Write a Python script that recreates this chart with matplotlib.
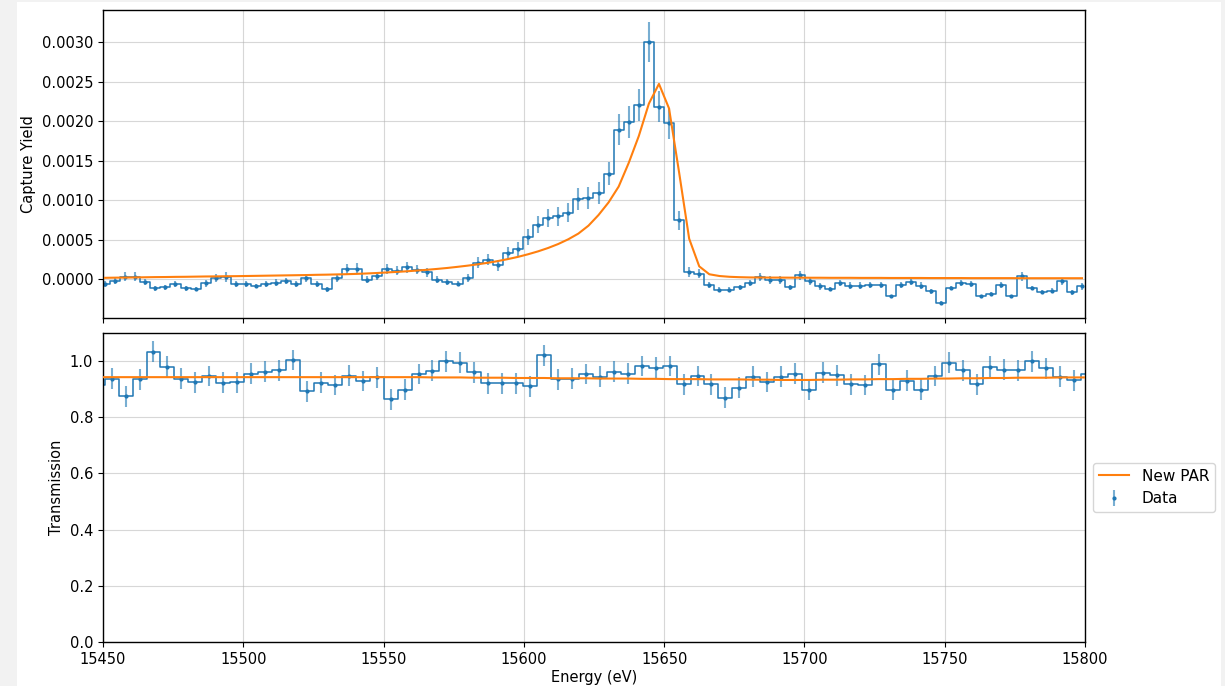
import matplotlib
matplotlib.use("Agg")
import matplotlib.pyplot as plt
from matplotlib.patches import Rectangle
from matplotlib.ticker import MultipleLocator
import numpy as np

plt.rcParams["font.size"] = 10.5
plt.rcParams["axes.linewidth"] = 1.0

# capture yield: uniform energy grid, measured points, errors and the PAR fit
cy_start = 15450.7
cy_step = 3.59
cy_data = [
    -0.000067, -0.000025, 0.00003, 0.00003, -0.000034, -0.000118, -0.000105, -0.000067, -0.000118, -0.000127,
    -0.000055, 0.000017, 0.000025, -0.000063, -0.000063, -0.000089, -0.000067, -0.000046, -0.000025, -0.000067,
    0.000017, -0.000067, -0.00013, 0.000017, 0.000122, 0.00013, -0.000008, 0.000034, 0.000127, 0.000105,
    0.000148, 0.000118, 0.000084, -0.000008, -0.000042, -0.000059, 0.000013, 0.000203, 0.000245, 0.000173,
    0.000329, 0.000384, 0.000527, 0.000688, 0.000772, 0.000793, 0.000837, 0.001008, 0.00103, 0.001089,
    0.001335, 0.00189, 0.00199, 0.002203, 0.0030, 0.002182, 0.00197, 0.000746, 0.000089, 0.000068,
    -0.000072, -0.000135, -0.000135, -0.000105, -0.000051, 0.000021, -0.000017, -0.000017, -0.000105, 0.000046,
    -0.00003, -0.000093, -0.000127, -0.000051, -0.000084, -0.000084, -0.000072, -0.000072, -0.000219, -0.000072,
    -0.000038, -0.000084, -0.000156, -0.000304, -0.000114, -0.000051, -0.000059, -0.000219, -0.00019, -0.000072,
    -0.000219, 0.000034, -0.000114, -0.000165, -0.000148, -0.00003, -0.000169, -0.000093,
]
cy_err = [
    4e-5, 4e-5, 6e-5, 6e-5, 4e-5, 3e-5, 3e-5, 4e-5, 3e-5, 3e-5,
    4e-5, 5e-5, 6e-5, 4e-5, 4e-5, 3e-5, 4e-5, 4e-5, 4e-5, 4e-5,
    5e-5, 4e-5, 3e-5, 5e-5, 7e-5, 7e-5, 4e-5, 5e-5, 6e-5, 6e-5,
    7e-5, 6e-5, 6e-5, 4e-5, 4e-5, 3e-5, 5e-5, 7e-5, 7e-5, 7e-5,
    8e-5, 9e-5, 1e-4, 1.1e-4, 1.2e-4, 1.2e-4, 1.2e-4, 1.4e-4, 1.4e-4, 1.4e-4,
    1.5e-4, 2e-4, 2e-4, 2e-4, 2.5e-4, 2e-4, 2e-4, 1.2e-4, 6e-5, 6e-5,
    4e-5, 3e-5, 3e-5, 3e-5, 4e-5, 5e-5, 5e-5, 5e-5, 3e-5, 6e-5,
    4e-5, 4e-5, 3e-5, 4e-5, 4e-5, 4e-5, 4e-5, 4e-5, 2e-5, 4e-5,
    4e-5, 4e-5, 3e-5, 2e-5, 3e-5, 4e-5, 4e-5, 2e-5, 2e-5, 4e-5,
    2e-5, 6e-5, 3e-5, 3e-5, 3e-5, 4e-5, 3e-5, 4e-5,
]
cy_fit = [
    1.5e-5, 1.7e-5, 1.8e-5, 2.0e-5, 2.2e-5, 2.4e-5, 2.5e-5, 2.7e-5, 2.8e-5, 3.0e-5,
    3.2e-5, 3.3e-5, 3.5e-5, 3.6e-5, 3.8e-5, 4.0e-5, 4.2e-5, 4.4e-5, 4.6e-5, 4.8e-5,
    5.0e-5, 5.3e-5, 5.5e-5, 5.8e-5, 6.1e-5, 6.5e-5, 7.0e-5, 7.6e-5, 8.3e-5, 9.0e-5,
    9.8e-5, 1.07e-4, 1.17e-4, 1.28e-4, 1.4e-4, 1.54e-4, 1.69e-4, 1.86e-4, 2.05e-4, 2.27e-4,
    2.52e-4, 2.8e-4, 3.13e-4, 3.5e-4, 3.93e-4, 4.43e-4, 5.03e-4, 5.75e-4, 6.75e-4, 8.1e-4,
    9.7e-4, 1.17e-3, 1.47e-3, 1.81e-3, 2.22e-3, 2.47e-3, 2.16e-3, 1.35e-3, 5.1e-4, 1.6e-4,
    6.0e-5, 3.8e-5, 2.8e-5, 2.3e-5, 2.0e-5, 1.9e-5, 1.8e-5, 1.8e-5, 1.7e-5, 1.7e-5,
    1.6e-5, 1.6e-5, 1.5e-5, 1.5e-5, 1.5e-5, 1.4e-5, 1.4e-5, 1.4e-5, 1.3e-5, 1.3e-5,
    1.3e-5, 1.3e-5, 1.2e-5, 1.2e-5, 1.2e-5, 1.2e-5, 1.1e-5, 1.1e-5, 1.1e-5, 1.1e-5,
    1.1e-5, 1.0e-5, 1.0e-5, 1.0e-5, 1.0e-5, 1.0e-5, 1.0e-5, 1.0e-5,
]

# transmission: coarser grid, one bin on each side falls outside the plotted range
tr_start = 15448.1
tr_step = 4.972
tr_data = [
    0.915,
    0.938, 0.875, 0.935, 1.033, 0.980, 0.938, 0.924, 0.947, 0.923, 0.924,
    0.956, 0.962, 0.968, 1.004, 0.893, 0.923, 0.915, 0.948, 0.929, 0.942,
    0.864, 0.899, 0.954, 0.966, 1.000, 0.995, 0.960, 0.921, 0.921, 0.921,
    0.911, 1.021, 0.936, 0.938, 0.954, 0.944,
    0.962, 0.956, 0.983, 0.976, 0.983, 0.917, 0.947, 0.917, 0.870, 0.906,
    0.944, 0.926, 0.944, 0.956, 0.897, 0.959, 0.950, 0.917, 0.915, 0.989,
    0.897, 0.930, 0.899, 0.947, 0.995, 0.968, 0.917, 0.980, 0.970, 0.968,
    1.000, 0.974, 0.944, 0.932,
    0.954,
]
tr_err = 0.037
tr_fit = [0.943] * 23 + [
    0.943, 0.942, 0.942, 0.942, 0.941, 0.941, 0.941, 0.940, 0.940, 0.940,
    0.939, 0.939, 0.939, 0.938, 0.938, 0.938, 0.937, 0.937, 0.936, 0.936,
    0.936, 0.935, 0.935, 0.935, 0.934, 0.934, 0.933, 0.933,
    0.933, 0.934, 0.934, 0.935, 0.935, 0.936, 0.936, 0.937, 0.937, 0.938,
    0.938, 0.939, 0.939, 0.940, 0.940, 0.941, 0.941, 0.941, 0.942, 0.942,
    0.942,
]

cy_energy = cy_start + cy_step * np.arange(len(cy_data))
tr_energy = tr_start + tr_step * np.arange(len(tr_data))

fig = plt.figure(figsize=(12.25, 6.86), dpi=100, facecolor="#f2f2f2")
fig.add_artist(Rectangle((17 / 1225, 0), 1204 / 1225, 684 / 686,
                         transform=fig.transFigure, facecolor="white",
                         edgecolor="none", zorder=-1))

ax1 = fig.add_axes([0.0841, 0.5364, 0.8016, 0.449])
ax2 = fig.add_axes([0.0841, 0.0641, 0.8016, 0.4504], sharex=ax1)

bar_color = (0.12, 0.47, 0.71, 0.6)


def draw_panel(ax, energy, values, errors, fit):
    ax.step(energy, values, where="mid", color="C0", lw=1.1)
    ax.errorbar(energy, values, yerr=errors, fmt=".", color="C0", ms=4,
                ecolor=bar_color, elinewidth=1.5, label="Data")
    ax.plot(energy, fit, color="C1", lw=1.5, label="New PAR", zorder=3)
    ax.grid(True, alpha=0.5)


draw_panel(ax1, cy_energy, cy_data, cy_err, cy_fit)
draw_panel(ax2, tr_energy, tr_data, tr_err, tr_fit)

ax1.set_xlim(15450, 15800)
ax1.set_ylim(-0.000494, 0.003405)
ax1.yaxis.set_major_locator(MultipleLocator(0.0005))
ax1.set_ylabel("Capture Yield")
ax1.tick_params(labelbottom=False)

ax2.set_ylim(0, 1.1)
ax2.set_xticks(np.arange(15450, 15801, 50))
ax2.set_ylabel("Transmission")
ax2.set_xlabel("Energy (eV)", labelpad=2)
ax2.legend(loc="center left", bbox_to_anchor=(1.0, 0.5), fontsize=11)

fig.savefig("out.png", dpi=100, facecolor=fig.get_facecolor())
